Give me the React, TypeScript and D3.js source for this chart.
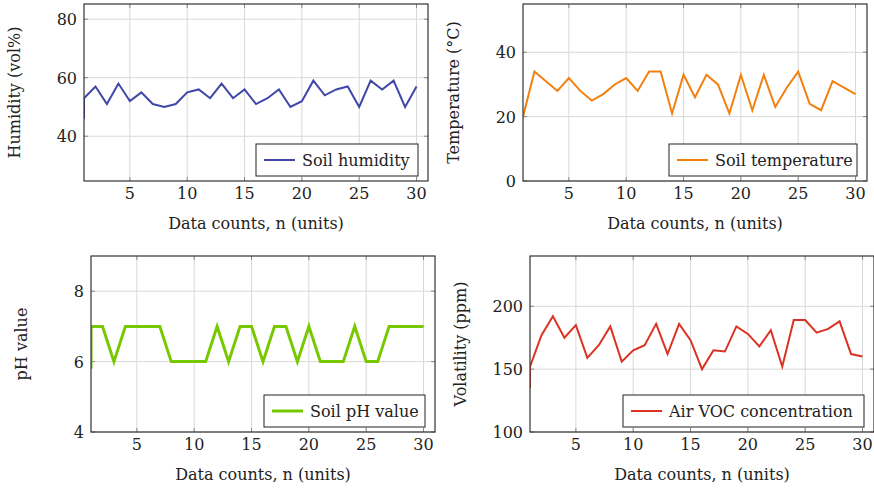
import React from 'react';
import * as d3 from 'd3';

// sample index; the first reading at n = 1 is logged twice (start-up value, then settled value)
const counts = [1, 1, 2, 3, 4, 5, 6, 7, 8, 9, 10, 11, 12, 13, 14, 15, 16, 17, 18, 19, 20, 21, 22, 23, 24, 25, 26, 27, 28, 29, 30];

const humidity = [46, 53, 57, 51, 58, 52, 55, 51, 50, 51, 55, 56, 53, 58, 53, 56, 51, 53, 56, 50, 52, 59, 54, 56, 57, 50, 59, 56, 59, 50, 57];
const temperature = [20, 20, 34, 31, 28, 32, 28, 25, 27, 30, 32, 28, 34, 34, 21, 33, 26, 33, 30, 21, 33, 22, 33, 23, 29, 34, 24, 22, 31, 29, 27];
const phValue = [5.8, 7, 7, 6, 7, 7, 7, 7, 6, 6, 6, 6, 7, 6, 7, 7, 6, 7, 7, 6, 7, 6, 6, 6, 7, 6, 6, 7, 7, 7, 7];
const voc = [135, 152, 177, 192, 175, 185, 159, 169, 184, 156, 165, 169, 186, 162, 186, 173, 150, 165, 164, 184, 178, 168, 181, 152, 189, 189, 179, 182, 188, 162, 160];

const xTicks = [5, 10, 15, 20, 25, 30];
const xLabel = 'Data counts, n (units)';

const panels = [
  { key: 'hum', values: humidity, yLabel: 'Humidity (vol%)', legend: 'Soil humidity', color: '#3f47a8', width: 2,
    yDomain: [24.7, 85.2], yTicks: [40, 60, 80], left: 84, top: 4, h: 177, legendW: 162 },
  { key: 'temp', values: temperature, yLabel: 'Temperature (°C)', legend: 'Soil temperature', color: '#f2800e', width: 2,
    yDomain: [0, 55], yTicks: [0, 20, 40], left: 523, top: 4, h: 177, legendW: 188 },
  { key: 'ph', values: phValue, yLabel: 'pH value', legend: 'Soil pH value', color: '#78c800', width: 3,
    yDomain: [4, 9], yTicks: [4, 6, 8], left: 91, top: 256, h: 176, legendW: 161 },
  { key: 'voc', values: voc, yLabel: 'Volatility (ppm)', legend: 'Air VOC concentration', color: '#dc3222', width: 2,
    yDomain: [100, 240], yTicks: [100, 150, 200], left: 530, top: 256, h: 176, legendW: 241 },
];

const W = 344;
const FONT = 'DejaVu Serif, Liberation Serif, serif';
const FS = 16;

function Panel({ p }) {
  const x = d3.scaleLinear().domain([1, 31]).range([p.left, p.left + W]);
  const y = d3.scaleLinear().domain(p.yDomain).range([p.top + p.h, p.top]);
  const pts = counts.map((c, i) => [c, p.values[i]]);
  const line = d3.line().x(d => x(d[0])).y(d => y(d[1]));
  const right = p.left + W;
  const bottom = p.top + p.h;
  const lgR = right - 10, lgB = bottom - 5, lgH = 32;
  const lgL = lgR - p.legendW;
  const clipId = 'clip-' + p.key;

  return (
    <g>
      <defs>
        <clipPath id={clipId}>
          <rect x={p.left} y={p.top} width={W} height={p.h} />
        </clipPath>
      </defs>
      {/* grid */}
      {xTicks.map(t => (
        <line key={'gx' + t} x1={x(t)} x2={x(t)} y1={p.top} y2={bottom} stroke="#d8d8d8" strokeWidth={1} />
      ))}
      {p.yTicks.map(t => (
        <line key={'gy' + t} x1={p.left} x2={right} y1={y(t)} y2={y(t)} stroke="#d8d8d8" strokeWidth={1} />
      ))}
      {/* tick marks */}
      {xTicks.map(t => (
        <g key={'tx' + t} stroke="#888" strokeWidth={1}>
          <line x1={x(t)} x2={x(t)} y1={bottom} y2={bottom - 4} />
          <line x1={x(t)} x2={x(t)} y1={p.top} y2={p.top + 4} />
        </g>
      ))}
      {p.yTicks.map(t => (
        <g key={'ty' + t} stroke="#888" strokeWidth={1}>
          <line x1={p.left} x2={p.left + 4} y1={y(t)} y2={y(t)} />
          <line x1={right} x2={right - 4} y1={y(t)} y2={y(t)} />
        </g>
      ))}
      <path d={line(pts)} fill="none" stroke={p.color} strokeWidth={p.width} strokeLinejoin="miter" clipPath={`url(#${clipId})`} />
      <rect x={p.left} y={p.top} width={W} height={p.h} fill="none" stroke="#333" strokeWidth={1.2} />
      {/* tick labels */}
      {xTicks.map(t => (
        <text key={'lx' + t} x={x(t)} y={bottom + 18} textAnchor="middle">{t}</text>
      ))}
      {p.yTicks.map(t => (
        <text key={'ly' + t} x={p.left - 7} y={y(t) + 6} textAnchor="end">{t}</text>
      ))}
      <text x={(p.left + right) / 2} y={bottom + 48} textAnchor="middle">{xLabel}</text>
      <text transform={`translate(${p.left - 64},${(p.top + bottom) / 2}) rotate(-90)`} textAnchor="middle">{p.yLabel}</text>
      {/* legend */}
      <rect x={lgL} y={lgB - lgH} width={p.legendW} height={lgH} fill="#fff" stroke="#222" strokeWidth={1} />
      <line x1={lgL + 8} x2={lgL + 39} y1={lgB - lgH / 2} y2={lgB - lgH / 2} stroke={p.color} strokeWidth={p.width} />
      <text x={lgL + 46} y={lgB - lgH / 2 + 6}>{p.legend}</text>
    </g>
  );
}

export default function App() {
  return (
    <svg width={874} height={489} style={{ position: 'absolute', left: 0, top: 0, fontFamily: FONT }}
      fontSize={FS} fill="#222">
      {panels.map(p => <Panel key={p.key} p={p} />)}
    </svg>
  );
}
